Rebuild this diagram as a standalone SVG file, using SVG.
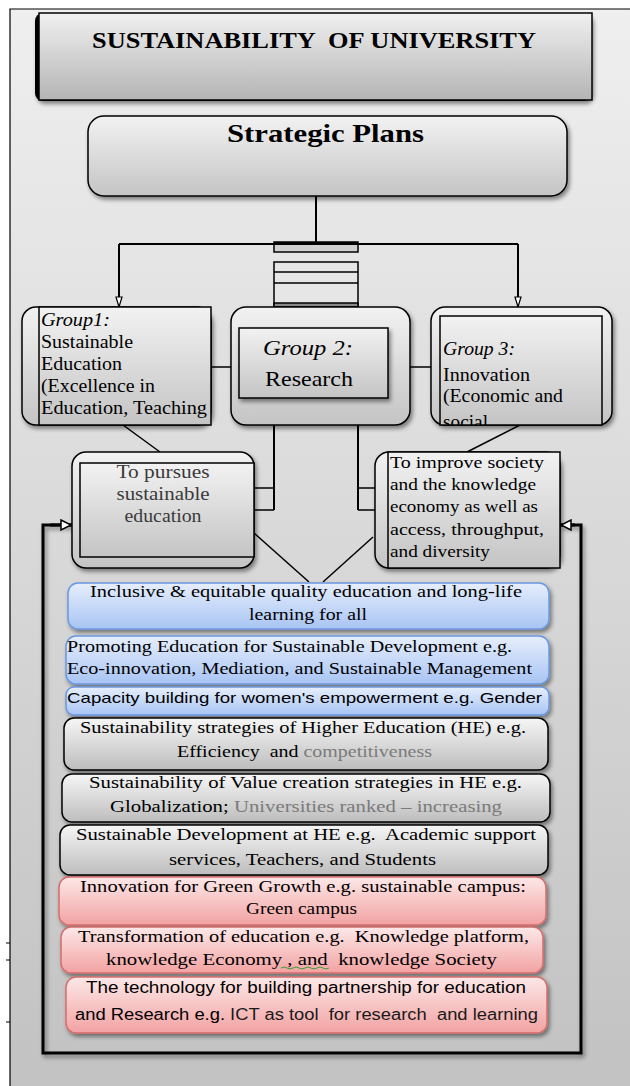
<svg xmlns="http://www.w3.org/2000/svg" width="630" height="1086" viewBox="0 0 630 1086">
<defs>
<linearGradient id="bg" x1="0" y1="0" x2="0" y2="1"><stop offset="0" stop-color="#efefef"/><stop offset="1" stop-color="#c2c2c2"/></linearGradient>
<linearGradient id="gTitle" x1="0" y1="0" x2="0" y2="1"><stop offset="0" stop-color="#f0f0f0"/><stop offset="1" stop-color="#b4b4b4"/></linearGradient>
<linearGradient id="gBox" x1="0" y1="0" x2="0" y2="1"><stop offset="0" stop-color="#f2f2f2"/><stop offset="1" stop-color="#c4c4c4"/></linearGradient>
<linearGradient id="gBar" x1="0" y1="0" x2="0" y2="1"><stop offset="0" stop-color="#f6f6f6"/><stop offset="1" stop-color="#bdbdbd"/></linearGradient>
<linearGradient id="gBlue" x1="0" y1="0" x2="0" y2="1"><stop offset="0" stop-color="#e6eefc"/><stop offset="1" stop-color="#a8c4f4"/></linearGradient>
<linearGradient id="gRed" x1="0" y1="0" x2="0" y2="1"><stop offset="0" stop-color="#fde8e8"/><stop offset="1" stop-color="#f2a2a2"/></linearGradient>
<filter id="sh" x="-10%" y="-10%" width="130%" height="140%"><feDropShadow dx="2" dy="3" stdDeviation="2" flood-color="#000" flood-opacity="0.45"/></filter>
<marker id="ahDown" viewBox="0 0 12 8" refX="11" refY="4" markerWidth="12" markerHeight="8" markerUnits="userSpaceOnUse" orient="auto">
<path d="M1,1 L11,4 L1,7 Z" fill="#fff" stroke="#000" stroke-width="1.2"/></marker>
<marker id="ahOpen" viewBox="0 0 12 12" refX="12" refY="6" markerWidth="12" markerHeight="12" markerUnits="userSpaceOnUse" orient="auto">
<path d="M1,1 L11,6 L1,11 Z" fill="#fff" stroke="#000" stroke-width="1.5"/></marker>
<clipPath id="clipG3"><rect x="440" y="316" width="162" height="109"/></clipPath>
<clipPath id="clipG1"><rect x="39" y="307" width="172" height="118"/></clipPath>
</defs>
<style>
.serif{font-family:"Liberation Serif","Times New Roman",serif;fill:#000}
.sans{font-family:"Liberation Sans",Arial,sans-serif;fill:#000}
.b{font-weight:bold}
.i{font-style:italic}
.c{text-anchor:middle}
.ln{stroke:#000;stroke-width:2;fill:none}
.thin{stroke:#000;stroke-width:1.5}
.box{stroke:#000;stroke-width:1.5}
.bar{font-size:16.5px}
.gry{fill:#7a7a7a}
</style>

<!-- page background / frame -->
<rect x="10" y="9" width="620" height="1077" fill="url(#bg)"/>
<path d="M10,1086 L10,9 L630,9" fill="none" stroke="#000" stroke-width="1.2"/>
<g stroke="#000" stroke-width="1"><line x1="6" y1="943" x2="10" y2="943"/><line x1="6" y1="960" x2="10" y2="960"/><line x1="6" y1="1022" x2="10" y2="1022"/></g>

<!-- connectors -->
<g id="connectors">
<line class="ln" x1="316" y1="196" x2="316" y2="244"/>
<line class="ln" x1="119" y1="244" x2="518" y2="244"/>
<line class="ln" x1="119" y1="244" x2="119" y2="307" marker-end="url(#ahDown)"/>
<line class="ln" x1="518" y1="244" x2="518" y2="307" marker-end="url(#ahDown)"/>
<rect x="274" y="242" width="84" height="10" fill="#d0d0d0" class="thin"/>
<rect x="274" y="242" width="84" height="3" fill="#000"/>
<rect x="274" y="262" width="84" height="45" fill="#e6e6e6" class="thin"/>
<line class="thin" x1="274" y1="272" x2="358" y2="272"/>
<line class="thin" x1="274" y1="283" x2="358" y2="283"/>
<rect x="274" y="303" width="84" height="4" fill="#8a8a8a" class="thin"/>
<line class="thin" x1="211" y1="367" x2="231" y2="367"/>
<line class="thin" x1="410" y1="367" x2="431" y2="367"/>
<line class="thin" x1="123" y1="425" x2="160" y2="452"/>
<line class="thin" x1="520" y1="425" x2="467" y2="452"/>
<line class="ln" x1="274" y1="425" x2="274" y2="510"/>
<line class="ln" x1="358" y1="425" x2="358" y2="510"/>
<line class="thin" x1="254" y1="488" x2="274" y2="488"/>
<line class="thin" x1="254" y1="510" x2="274" y2="510"/>
<line class="thin" x1="358" y1="488" x2="375" y2="488"/>
<line class="thin" x1="358" y1="510" x2="375" y2="510"/>
<line class="thin" x1="254" y1="533" x2="309" y2="582"/>
<line class="thin" x1="373" y1="537" x2="323" y2="582"/>
<path d="M72,525 L43,525 L43,1053 L581,1053 L581,525 L560,525" fill="none" stroke="#000" stroke-width="3" filter="url(#sh)"/>
<line x1="50" y1="525" x2="72" y2="525" stroke="#000" stroke-width="3" marker-end="url(#ahOpen)"/>
<line x1="575" y1="525" x2="560" y2="525" stroke="#000" stroke-width="3" marker-end="url(#ahOpen)"/>
</g>

<!-- title -->
<g id="title">
<rect x="35" y="13" width="557" height="88" rx="8" fill="#000" filter="url(#sh)"/>
<rect x="39" y="13" width="553" height="87" fill="url(#gTitle)" class="box"/>
<text class="serif b c" x="314" y="48" font-size="23" textLength="444" lengthAdjust="spacingAndGlyphs" xml:space="preserve">SUSTAINABILITY  OF UNIVERSITY</text>
</g>

<g id="strategic">
<rect x="88" y="116" width="479" height="80" rx="16" fill="url(#gBox)" class="box" filter="url(#sh)"/>
<text class="serif b c" x="325.5" y="142" font-size="25" textLength="197" lengthAdjust="spacingAndGlyphs">Strategic Plans</text>
</g>

<g id="group1">
<rect x="22" y="307" width="189" height="118" rx="14" fill="url(#gBox)" class="box" filter="url(#sh)"/>
<rect x="39" y="307" width="172" height="118" fill="url(#gBox)" class="box"/>
<g clip-path="url(#clipG1)" font-size="18">
<text class="serif i" x="41" y="326" textLength="69" lengthAdjust="spacingAndGlyphs">Group1:</text>
<text class="serif" x="41" y="348" textLength="92" lengthAdjust="spacingAndGlyphs">Sustainable</text>
<text class="serif" x="41" y="370" textLength="81" lengthAdjust="spacingAndGlyphs">Education</text>
<text class="serif" x="41" y="392" textLength="114" lengthAdjust="spacingAndGlyphs">(Excellence in</text>
<text class="serif" x="41" y="414" textLength="166" lengthAdjust="spacingAndGlyphs">Education, Teaching</text>
</g>
</g>

<g id="group2">
<rect x="231" y="307" width="179" height="118" rx="15" fill="url(#gBox)" class="box" filter="url(#sh)"/>
<rect x="239" y="328" width="149" height="70" fill="url(#gBox)" class="box" filter="url(#sh)"/>
<text class="serif i c" x="308" y="355" font-size="22" textLength="90" lengthAdjust="spacingAndGlyphs">Group 2:</text>
<text class="serif c" x="309" y="386" font-size="22" textLength="88" lengthAdjust="spacingAndGlyphs">Research</text>
</g>

<g id="group3">
<rect x="431" y="307" width="181" height="118" rx="14" fill="url(#gBox)" class="box" filter="url(#sh)"/>
<rect x="440" y="316" width="162" height="109" fill="url(#gBox)" class="box"/>
<g clip-path="url(#clipG3)" font-size="18">
<text class="serif i" x="443" y="355" textLength="72" lengthAdjust="spacingAndGlyphs">Group 3:</text>
<text class="serif" x="443" y="381" textLength="87" lengthAdjust="spacingAndGlyphs">Innovation</text>
<text class="serif" x="443" y="402" textLength="120" lengthAdjust="spacingAndGlyphs">(Economic and</text>
<text class="serif" x="443" y="428" textLength="45" lengthAdjust="spacingAndGlyphs">social</text>
</g>
</g>

<g id="goal1">
<rect x="72" y="452" width="182" height="116" rx="14" fill="url(#gBox)" class="box" filter="url(#sh)"/>
<rect x="80" y="463" width="174" height="94" fill="url(#gBox)" class="box"/>
<text class="serif c" x="163" y="478" font-size="18" style="fill:#3a3a3a" textLength="93" lengthAdjust="spacingAndGlyphs">To pursues</text>
<text class="serif c" x="163" y="500" font-size="18" style="fill:#3a3a3a" textLength="93" lengthAdjust="spacingAndGlyphs">sustainable</text>
<text class="serif c" x="163" y="522" font-size="18" style="fill:#3a3a3a" textLength="77" lengthAdjust="spacingAndGlyphs">education</text>
</g>

<g id="goal3">
<rect x="375" y="452" width="185" height="116" rx="14" fill="url(#gBox)" class="box" filter="url(#sh)"/>
<rect x="388" y="452" width="172" height="116" fill="url(#gBox)" class="box"/>
<g font-size="17">
<text class="serif" x="390" y="468" textLength="154" lengthAdjust="spacingAndGlyphs">To improve society</text>
<text class="serif" x="390" y="490" textLength="146" lengthAdjust="spacingAndGlyphs">and the knowledge</text>
<text class="serif" x="390" y="512" textLength="148" lengthAdjust="spacingAndGlyphs">economy as well as</text>
<text class="serif" x="390" y="535" textLength="154" lengthAdjust="spacingAndGlyphs">access, throughput,</text>
<text class="serif" x="390" y="557" textLength="100" lengthAdjust="spacingAndGlyphs">and diversity</text>
</g>
</g>

<!-- blue bars -->
<g id="bar1">
<rect x="68" y="583" width="481" height="46" rx="10" fill="url(#gBlue)" stroke="#6b97e0" stroke-width="1.5" filter="url(#sh)"/>
<text class="serif bar c" x="306" y="597" textLength="432" lengthAdjust="spacingAndGlyphs">Inclusive &amp; equitable quality education and long-life</text>
<text class="serif bar c" x="308" y="620" textLength="118" lengthAdjust="spacingAndGlyphs">learning for all</text>
</g>
<g id="bar2">
<rect x="66" y="636" width="483" height="48" rx="10" fill="url(#gBlue)" stroke="#6b97e0" stroke-width="1.5" filter="url(#sh)"/>
<text class="serif bar" x="67" y="652" textLength="445" lengthAdjust="spacingAndGlyphs">Promoting Education for Sustainable Development e.g.</text>
<text class="serif bar" x="67" y="674" textLength="465" lengthAdjust="spacingAndGlyphs">Eco-innovation, Mediation, and Sustainable Management</text>
</g>
<g id="bar3">
<rect x="66" y="687" width="483" height="28" rx="8" fill="url(#gBlue)" stroke="#6b97e0" stroke-width="1.5" filter="url(#sh)"/>
<text class="sans" x="67" y="703" font-size="15" textLength="475" lengthAdjust="spacingAndGlyphs">Capacity building for women's empowerment e.g. Gender</text>
</g>

<!-- gray bars -->
<g id="bar4">
<rect x="64" y="718" width="484" height="52" rx="10" fill="url(#gBar)" class="box" filter="url(#sh)"/>
<text class="serif bar c" x="303" y="733" textLength="446" lengthAdjust="spacingAndGlyphs">Sustainability strategies of Higher Education (HE) e.g.</text>
<text class="serif bar" x="177" y="757" textLength="255" lengthAdjust="spacingAndGlyphs" xml:space="preserve">Efficiency  and <tspan class="gry">competitiveness</tspan></text>
</g>
<g id="bar5">
<rect x="62" y="774" width="488" height="48" rx="10" fill="url(#gBar)" class="box" filter="url(#sh)"/>
<text class="serif bar c" x="305.5" y="788" textLength="433" lengthAdjust="spacingAndGlyphs">Sustainability of Value creation strategies in HE e.g.</text>
<text class="serif bar" x="110" y="812" textLength="392" lengthAdjust="spacingAndGlyphs">Globalization; <tspan class="gry">Universities ranked – increasing</tspan></text>
</g>
<g id="bar6">
<rect x="60" y="825" width="488" height="50" rx="10" fill="url(#gBar)" class="box" filter="url(#sh)"/>
<text class="serif bar c" x="306" y="840" textLength="460" lengthAdjust="spacingAndGlyphs" xml:space="preserve">Sustainable Development at HE e.g.  Academic support</text>
<text class="serif bar c" x="302.5" y="865" textLength="267" lengthAdjust="spacingAndGlyphs">services, Teachers, and Students</text>
</g>

<!-- red bars -->
<g id="bar7">
<rect x="59" y="877" width="487" height="48" rx="10" fill="url(#gRed)" stroke="#d46e6c" stroke-width="1.5" filter="url(#sh)"/>
<text class="serif bar c" x="303" y="892" textLength="446" lengthAdjust="spacingAndGlyphs">Innovation for Green Growth e.g. sustainable campus:</text>
<text class="serif bar c" x="301.5" y="914" textLength="111" lengthAdjust="spacingAndGlyphs">Green campus</text>
</g>
<g id="bar8">
<rect x="61" y="927" width="482" height="46" rx="10" fill="url(#gRed)" stroke="#d46e6c" stroke-width="1.5" filter="url(#sh)"/>
<text class="serif bar c" x="303.5" y="942" textLength="451" lengthAdjust="spacingAndGlyphs" xml:space="preserve">Transformation of education e.g.  Knowledge platform,</text>
<text class="serif bar c" x="301.5" y="965" textLength="391" lengthAdjust="spacingAndGlyphs" xml:space="preserve">knowledge Economy , and  knowledge Society</text>
<path d="M281,968 q3,-2 6,0 t6,0 t6,0 t6,0 t6,0 t6,0 t6,0 t6,0" fill="none" stroke="#3aa03a" stroke-width="1"/>
</g>
<g id="bar9">
<rect x="66" y="977" width="481" height="56" rx="10" fill="url(#gRed)" stroke="#d46e6c" stroke-width="1.5" filter="url(#sh)"/>
<text class="sans c" x="306" y="993" font-size="16" textLength="440" lengthAdjust="spacingAndGlyphs">The technology for building partnership for education</text>
<text class="sans" x="75" y="1020" font-size="16" textLength="463" lengthAdjust="spacingAndGlyphs" xml:space="preserve">and Research e.g. <tspan style="fill:#1a1a1a">ICT as tool  for research  and learning</tspan></text>
</g>
</svg>
